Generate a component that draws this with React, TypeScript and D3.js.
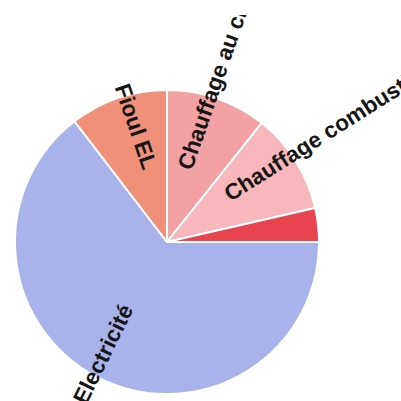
import * as d3 from 'd3';

// slices clockwise from 12 o'clock
const labels = ['Chauffage au charbon', 'Chauffage combustible', '', 'Electricité', 'Fioul EL'];
const values = [10.7, 10.7, 3.6, 64.6, 10.4];
const colors = ['#f3a1a2', '#f8b8bb', '#e8434f', '#a8b2eb', '#f19079'];

const W = 401;
const H = 401;
const cx = 167;
const cy = 242;
const R = 152;
const labelR = 75;

interface Slice {
  label: string;
  value: number;
  color: string;
}

const slices: Slice[] = labels.map((label, i) => ({ label, value: values[i], color: colors[i] }));

export default function App(): React.JSX.Element {
  const pie = d3.pie<Slice>().value(d => d.value).sort(null);
  const arc = d3.arc<d3.PieArcDatum<Slice>>().innerRadius(0).outerRadius(R);
  const arcs = pie(slices);

  return (
    <svg
      width={W}
      height={H}
      style={{ position: 'absolute', left: 0, top: 0, background: '#fff' }}
    >
      <defs>
        {/* the scanned chart area stops a little below the top of the picture */}
        <clipPath id="plot">
          <rect x={0} y={15} width={W} height={H - 15} />
        </clipPath>
      </defs>
      <g transform={`translate(${cx},${cy})`}>
        {arcs.map((a, i) => (
          <path key={i} d={arc(a) ?? ''} fill={a.data.color} stroke="#fff" strokeWidth={2} strokeLinejoin="round" />
        ))}
      </g>
      <g clipPath="url(#plot)">
        <g transform={`translate(${cx},${cy})`}>
          {arcs.map((a, i) => {
            if (!a.data.label) return null;
            const mid = (a.startAngle + a.endAngle) / 2;
            const deg = (mid * 180) / Math.PI;
            const flip = mid > Math.PI;
            return (
              <text
                key={`t${i}`}
                transform={`rotate(${deg - 90}) translate(${labelR},0)${flip ? ' rotate(180)' : ''}`}
                textAnchor={flip ? 'end' : 'start'}
                fontFamily="'Liberation Sans', Arial, sans-serif"
                fontSize={22.5}
                fontWeight="bold"
                fill="#151515"
              >
                {a.data.label}
              </text>
            );
          })}
        </g>
      </g>
    </svg>
  );
}
